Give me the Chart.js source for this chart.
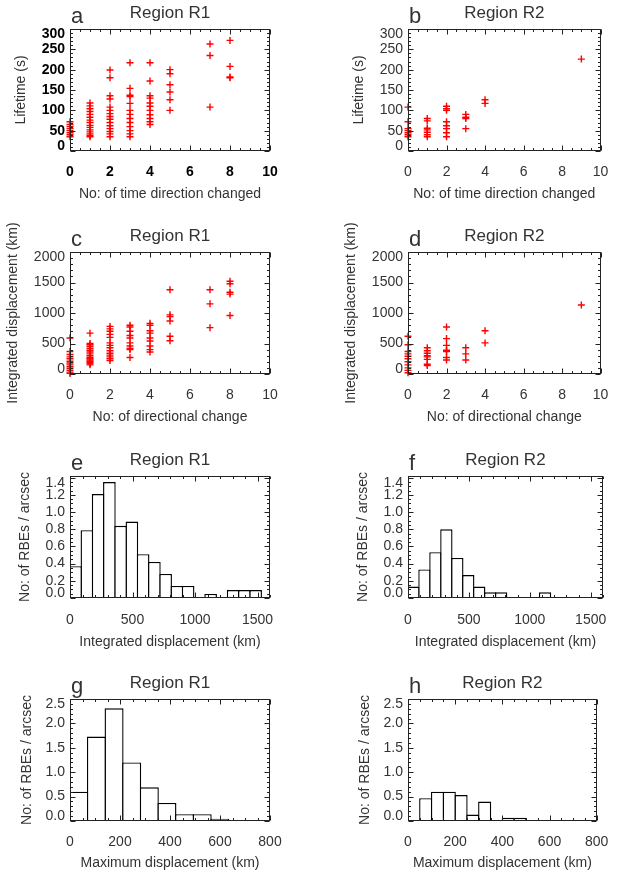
<!DOCTYPE html>
<html><head><meta charset="utf-8">
<script src="https://cdn.jsdelivr.net/npm/chart.js@4.4.1/dist/chart.umd.min.js"></script>
<style>
html,body{margin:0;padding:0;background:#fff;overflow:hidden;width:621px;height:874px;position:relative;}
canvas{position:absolute;}
</style></head><body>
<canvas id="pa"></canvas><canvas id="pb"></canvas>
<canvas id="pc"></canvas><canvas id="pd"></canvas>
<canvas id="pe"></canvas><canvas id="pf"></canvas>
<canvas id="pg"></canvas><canvas id="ph"></canvas>
<script>
// ---------------- DATA ----------------
// Panel a: Region R1, no. of direction changes vs lifetime (s)
const dirR1a = [0,0,0,0,0,0,0,0, 1,1,1,1,1,1,1,1,1,1,1,1,1,1,1, 2,2,2,2,2,2,2,2,2,2,2,2,2,2,2, 3,3,3,3,3,3,3,3,3,3,3,3,3, 4,4,4,4,4,4,4,4,4,4,4, 5,5,5,5,5,5, 7,7,7, 8,8,8,8];
const lifetimeR1 = [35,40,45,50,55,60,65,72, 35,38,42,47,52,58,63,70,76,83,90,97,104,111,118, 35,42,48,55,62,70,78,85,92,100,108,128,136,180,199, 35,42,50,60,70,80,90,100,117,134,137,154,217, 65,72,80,89,100,110,118,130,136,172,217, 100,126,145,163,190,200, 108,235,263, 180,182,208,272];
// Panel b: Region R2
const dirR2b = [0,0,0,0,0,0,0, 1,1,1,1,1,1,1, 2,2,2,2,2,2,2,2, 3,3,3,3, 4,4, 9];
const lifetimeR2 = [35,40,45,50,55,72,108, 35,40,46,52,56,74,80, 35,45,55,62,72,100,104,110, 55,80,83,90, 117,126, 226];
// Panel c: Region R1, no. of directional change vs integrated displacement (km)
const dirR1c = [0,0,0,0,0,0,0,0,0,0,0,0,0, 1,1,1,1,1,1,1,1,1,1,1,1,1,1,1,1, 2,2,2,2,2,2,2,2,2,2,2,2,2,2, 3,3,3,3,3,3,3,3,3,3, 4,4,4,4,4,4,4,4,4, 5,5,5,5,5,5, 7,7,7, 8,8,8,8,8];
const intDispR1 = [10,30,60,90,120,150,180,210,250,280,320,370,590, 150,170,190,210,230,250,270,300,330,360,390,420,450,480,500,670, 220,250,280,310,340,380,430,470,510,600,650,700,740,780, 270,400,420,460,510,590,630,700,770,800, 360,400,460,540,590,670,710,800,830, 545,620,870,940,970,1380, 760,1150,1380, 960,1310,1340,1480,1520];
// Panel d: Region R2
const dirR2d = [0,0,0,0,0,0,0,0,0,0,0, 1,1,1,1,1,1,1,1, 2,2,2,2,2,2,2, 3,3,3, 4,4, 9];
const intDispR2 = [20,60,100,150,200,250,290,330,370,480,620, 140,160,240,280,300,340,380,430, 230,270,370,390,470,580,770, 230,330,430, 510,710, 1130];
// Panels e/f: histograms of integrated displacement (bin centres, km) -> No. of RBEs / arcsec
const intDispBins = [45,135,225,315,405,495,585,675,765,855,945,1035,1125,1215,1305,1395,1485];
const histIntR1 = [0.37,0.79,1.21,1.35,0.84,0.89,0.51,0.42,0.28,0.14,0.14,0,0.047,0,0.093,0.093,0.093];
const histIntR2 = [0.133,0.333,0.533,0.8,0.467,0.267,0.133,0.067,0.067,0,0,0,0.067,0,0,0,0];
// Panels g/h: histograms of maximum displacement
const maxDispBinsR1 = [35.25,105.75,176.25,246.75,317.25,387.75,458.25,528.75,599.25];
const histMaxR1 = [0.6,1.73,2.31,1.2,0.69,0.37,0.14,0.14,0.047];
const maxDispBinsR2 = [75,125,175,225,275,325,375,425,475];
const histMaxR2 = [0.467,0.6,0.6,0.533,0.133,0.4,0,0.067,0.067];
// Tick values
const ticksDir = [0,2,4,6,8,10];
const ticksLife = [0,50,100,150,200,250,300];
const ticksDisp = [0,500,1000,1500,2000];
const ticksIntX = [0,500,1000,1500];
const ticksHistE = [0,0.2,0.4,0.6,0.8,1.0,1.2,1.4];
const ticksMaxX = [0,200,400,600,800];
const ticksHistG = [0,0.5,1.0,1.5,2.0,2.5];

// ---------------- STYLE / LAYOUT ----------------
const FONT = '"Liberation Sans", Arial, Helvetica, sans-serif';
const TXT = '#333';
const ROW_TOP = [29, 252, 476, 699];
const YTITLE_PAD = [12.6, 5, 16.6, 19];
const XTITLE_PAD = [12, 12, 11, 13];
const XTICK_PAD = [12.6, 12.6, 13.6, 12.6];
const HIST_BW = 1.4;

const boxPlugin = {
  id: 'panelBox',
  afterDatasetsDraw(chart, args, o) {
    const {ctx, chartArea: a, scales: {x, y}} = chart;
    const L = Math.round(a.left) + 0.5, R = Math.round(a.right) - 0.5;
    const T = Math.round(a.top) + 0.5, B = Math.round(a.bottom) - 0.5;
    ctx.save();
    ctx.strokeStyle = '#222'; ctx.lineWidth = 1;
    ctx.strokeRect(L, T, R - L, B - T);
    ctx.beginPath();
    const eps = 1e-9;
    for (let v = x.min; v <= x.max + eps; v += o.xMinor) {
      const p = Math.round(x.getPixelForValue(v)) + 0.5;
      const major = o.xTicks.some(t => Math.abs(t - v) < o.xMinor / 10);
      const len = major ? 5 : 2.5;
      ctx.moveTo(p, B); ctx.lineTo(p, B - len);
      ctx.moveTo(p, T); ctx.lineTo(p, T + len);
    }
    for (let v = y.min; v <= y.max + eps; v += o.yMinor) {
      const p = Math.round(y.getPixelForValue(v)) + 0.5;
      const major = o.yTicks.some(t => Math.abs(t - v) < o.yMinor / 10);
      const len = major ? 5 : 2.5;
      ctx.moveTo(L, p); ctx.lineTo(L + len, p);
      ctx.moveTo(R, p); ctx.lineTo(R - len, p);
    }
    ctx.stroke();
    ctx.fillStyle = TXT;
    ctx.font = '22px ' + FONT;
    ctx.textBaseline = 'alphabetic'; ctx.textAlign = 'left';
    ctx.fillText(o.letter, a.left + 1, a.top - 6);
    ctx.restore();
  }
};

function makePanel(id, col, row, cfg) {
  const cv = document.getElementById(id);
  const W = col === 0 ? 300 : 283;
  const H = 215;
  cv.width = W; cv.height = H;
  cv.style.width = W + 'px'; cv.style.height = H + 'px';
  cv.style.left = (col === 0 ? 0 : 338) + 'px';
  cv.style.top = (ROW_TOP[row] - 29) + 'px';
  const tickCol = cfg.tickColor || TXT;
  const tickWeight = cfg.tickWeight || 'normal';
  const yt = cfg.yTicks;
  const ytLabel = cfg.yFmt;
  new Chart(cv, {
    data: {datasets: cfg.datasets},
    options: {
      responsive: false, animation: false, devicePixelRatio: 1, events: [],
      layout: {padding: {left: 0, right: W - 270, top: 0, bottom: 0}},
      plugins: {
        legend: {display: false}, tooltip: {enabled: false},
        title: {display: true, text: cfg.title, fullSize: false, color: TXT,
          font: {family: FONT, size: 17, weight: 'normal', lineHeight: 1.2},
          padding: {top: 3.3, bottom: 5.3}},
        panelBox: {letter: cfg.letter, xMinor: cfg.xMinor, yMinor: cfg.yMinor, xTicks: cfg.xTicks, yTicks: yt}
      },
      scales: {
        x: {
          type: 'linear', min: cfg.xMin, max: cfg.xMax, offset: false,
          grid: {display: false, drawTicks: false, offset: false}, border: {display: false},
          afterBuildTicks: s => { s.ticks = cfg.xTicks.map(v => ({value: v})); },
          afterFit: s => { s.height = 64; },
          ticks: {padding: XTICK_PAD[row], color: tickCol, maxRotation: 0, minRotation: 0, autoSkip: false,
            font: {family: FONT, size: 14, weight: tickWeight, lineHeight: 1.2},
            callback: v => String(v)},
          title: {display: true, text: cfg.xTitle, color: TXT,
            font: {family: FONT, size: 14, lineHeight: 1.2}, padding: {top: 0, bottom: XTITLE_PAD[row]}}
        },
        y: {
          type: 'linear', min: cfg.yMin, max: cfg.yMax,
          grid: {display: false, drawTicks: false}, border: {display: false},
          afterBuildTicks: s => { s.ticks = yt.map(v => ({value: v})); },
          afterFit: s => { s.width = 70; },
          ticks: {padding: 5, color: tickCol, autoSkip: false,
            font: c => ({family: FONT, size: cfg.yTickSize || 14, weight: tickWeight,
              lineHeight: (c.index === 0 || c.index === yt.length - 1) ? '10px' : 1.2}),
            callback: (v, i, t) => {
              const s = ytLabel(v);
              if (i === 0) return [s, ''];
              if (i === t.length - 1) return ['', s];
              return s;
            }},
          title: {display: true, text: cfg.yTitle, color: TXT,
            font: {family: FONT, size: 14, lineHeight: 1.2}, padding: {top: YTITLE_PAD[row], bottom: 0}}
        }
      }
    },
    plugins: [boxPlugin]
  });
}

function scatterSet(xs, ys) {
  return {type: 'scatter', data: xs.map((x, i) => ({x: x, y: ys[i]})),
    pointStyle: 'cross', pointRadius: 3.5, pointBorderWidth: 1.4,
    borderColor: '#ff0000', backgroundColor: '#ff0000', clip: false};
}
function histSet(xs, ys, bp) {
  return {type: 'bar', data: xs.map((x, i) => ({x: x, y: ys[i]})),
    backgroundColor: '#ffffff', borderColor: '#000', borderWidth: HIST_BW,
    borderSkipped: 'start', barPercentage: bp, categoryPercentage: 1, grouped: false};
}
const fmtInt = v => String(Math.round(v));
const fmt1 = v => v.toFixed(1);

makePanel('pa', 0, 0, {letter: 'a', title: 'Region R1', datasets: [scatterSet(dirR1a, lifetimeR1)],
  xMin: 0, xMax: 10, xTicks: ticksDir, xMinor: 0.5, yMin: 0, yMax: 300, yTicks: ticksLife, yMinor: 10, yFmt: fmtInt,
  xTitle: 'No: of time direction changed', yTitle: 'Lifetime (s)', tickColor: '#000', tickWeight: 'bold'});
makePanel('pb', 1, 0, {letter: 'b', title: 'Region R2', datasets: [scatterSet(dirR2b, lifetimeR2)],
  xMin: 0, xMax: 10, xTicks: ticksDir, xMinor: 0.5, yMin: 0, yMax: 300, yTicks: ticksLife, yMinor: 10, yFmt: fmtInt,
  xTitle: 'No: of time direction changed', yTitle: 'Lifetime (s)'});
makePanel('pc', 0, 1, {letter: 'c', title: 'Region R1', datasets: [scatterSet(dirR1c, intDispR1)],
  xMin: 0, xMax: 10, xTicks: ticksDir, xMinor: 0.5, yMin: 0, yMax: 2000, yTicks: ticksDisp, yMinor: 100, yFmt: fmtInt,
  xTitle: 'No: of directional change', yTitle: 'Integrated displacement (km)'});
makePanel('pd', 1, 1, {letter: 'd', title: 'Region R2', datasets: [scatterSet(dirR2d, intDispR2)],
  xMin: 0, xMax: 10, xTicks: ticksDir, xMinor: 0.5, yMin: 0, yMax: 2000, yTicks: ticksDisp, yMinor: 100, yFmt: fmtInt,
  xTitle: 'No: of directional change', yTitle: 'Integrated displacement (km)'});
makePanel('pe', 0, 2, {letter: 'e', title: 'Region R1', datasets: [histSet(intDispBins, histIntR1, 1.124)],
  xMin: 0, xMax: 1600, xTicks: ticksIntX, xMinor: 100, yMin: 0, yMax: 1.42, yTicks: ticksHistE, yMinor: 0.05, yFmt: fmt1,
  xTitle: 'Integrated displacement (km)', yTitle: 'No: of RBEs / arcsec'});
makePanel('pf', 1, 2, {letter: 'f', title: 'Region R2', datasets: [histSet(intDispBins, histIntR2, 1.124)],
  xMin: 0, xMax: 1600, xTicks: ticksIntX, xMinor: 100, yMin: 0, yMax: 1.42, yTicks: ticksHistE, yMinor: 0.05, yFmt: fmt1,
  xTitle: 'Integrated displacement (km)', yTitle: 'No: of RBEs / arcsec'});
makePanel('pg', 0, 3, {letter: 'g', title: 'Region R1', datasets: [histSet(maxDispBinsR1, histMaxR1, 1.079)],
  xMin: 0, xMax: 800, xTicks: ticksMaxX, xMinor: 50, yMin: 0, yMax: 2.5, yTicks: ticksHistG, yMinor: 0.1, yFmt: fmt1,
  xTitle: 'Maximum displacement (km)', yTitle: 'No: of RBEs / arcsec'});
makePanel('ph', 1, 3, {letter: 'h', title: 'Region R2', datasets: [histSet(maxDispBinsR2, histMaxR2, 1.112)],
  xMin: 0, xMax: 800, xTicks: ticksMaxX, xMinor: 50, yMin: 0, yMax: 2.5, yTicks: ticksHistG, yMinor: 0.1, yFmt: fmt1,
  xTitle: 'Maximum displacement (km)', yTitle: 'No: of RBEs / arcsec'});
</script>
</body></html>
